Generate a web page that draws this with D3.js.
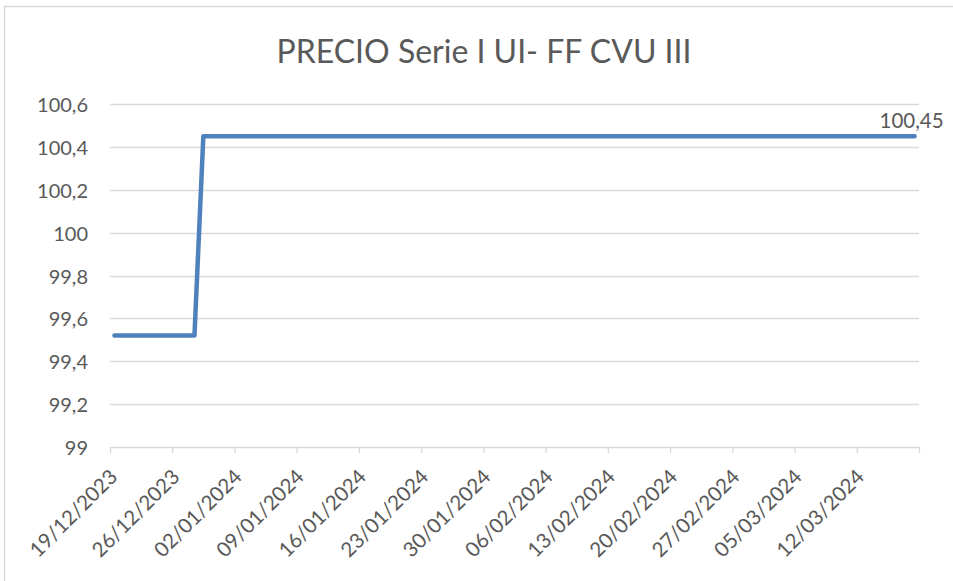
<!DOCTYPE html>
<html>
<head>
<meta charset="utf-8">
<script src="https://cdn.jsdelivr.net/npm/d3@7"></script>
<style>
  html, body { margin: 0; padding: 0; background: #fff; }
  svg { display: block; }
  text { font-family: Lato, "Open Sans", sans-serif; fill: #595959; }
</style>
</head>
<body>
<svg id="chart" width="953" height="581"></svg>
<script>
// ---- data ----
const title = "PRECIO Serie I UI- FF CVU III";
const pointDates = ["2023-12-19", "2023-12-28", "2023-12-29", "2024-03-18"];
const pointValues = [99.52, 99.52, 100.45, 100.45];
const lastLabel = "100,45";
const axisStart = "2023-12-19";
const axisEnd = "2024-03-19";
const tickDates = ["2023-12-19","2023-12-26","2024-01-02","2024-01-09","2024-01-16","2024-01-23","2024-01-30","2024-02-06","2024-02-13","2024-02-20","2024-02-27","2024-03-05","2024-03-12","2024-03-19"];
const tickLabels = ["19/12/2023","26/12/2023","02/01/2024","09/01/2024","16/01/2024","23/01/2024","30/01/2024","06/02/2024","13/02/2024","20/02/2024","27/02/2024","05/03/2024","12/03/2024",""];
const yTicks = [99, 99.2, 99.4, 99.6, 99.8, 100, 100.2, 100.4, 100.6];

const parse = d3.utcParse("%Y-%m-%d");
const svg = d3.select("#chart");
const FONT = "Lato, 'Open Sans', sans-serif";

// chart border
svg.append("rect").attr("x", 4.5).attr("y", 6.5).attr("width", 960).attr("height", 600)
  .attr("fill", "none").attr("stroke", "#d9d9d9").attr("stroke-width", 1.5);

const x = d3.scaleUtc().domain([parse(axisStart), parse(axisEnd)]).range([110, 919]);
const y = d3.scaleLinear().domain([99, 100.6]).range([447, 104]);
const fmt = v => d3.format(".1f")(v).replace(/\.0$/, "").replace(".", ",");

// title
svg.append("text").attr("x", 484).attr("y", 63).attr("text-anchor", "middle")
  .style("font-size", "32px").attr("textLength", 415).attr("lengthAdjust", "spacingAndGlyphs")
  .text(title);

// gridlines
svg.append("g").selectAll("line").data(yTicks.filter(v => v !== 99)).join("line")
  .attr("x1", 110).attr("x2", 919)
  .attr("y1", d => Math.round(y(d)) + 0.5).attr("y2", d => Math.round(y(d)) + 0.5)
  .attr("stroke", "#d9d9d9").attr("stroke-width", 1.3);

// y axis labels
const yAxis = d3.axisLeft(y).tickValues(yTicks).tickFormat(fmt).tickSize(0).tickPadding(22);
const gy = svg.append("g").attr("transform", "translate(110,0)").call(yAxis);
gy.select(".domain").remove();
gy.selectAll("text").style("font-size", "20px").style("font-family", FONT).attr("fill", "#595959")
  .attr("dy", "0.38em");

// x axis
const xAxis = d3.axisBottom(x).tickValues(tickDates.map(parse))
  .tickFormat((d, i) => tickLabels[i]).tickSizeInner(6).tickSizeOuter(0).tickPadding(4);
const gx = svg.append("g").attr("transform", "translate(0,447)").call(xAxis);
gx.select(".domain").attr("stroke", "#d9d9d9").attr("stroke-width", 1.3);
gx.selectAll(".tick line").attr("stroke", "#d9d9d9").attr("stroke-width", 1.3);
gx.selectAll(".tick text")
  .style("font-size", "20.5px").style("font-family", FONT).attr("fill", "#595959")
  .attr("text-anchor", "end").attr("dy", "0.35em")
  .attr("transform", "translate(3,26) rotate(-45)").attr("y", 0).attr("x", 0);

// line (points centred in each day)
const halfDay = 12 * 3600 * 1000;
const pts = pointDates.map((d, i) => [new Date(parse(d).getTime() + halfDay), pointValues[i]]);
const line = d3.line().x(d => x(d[0])).y(d => y(d[1]));
svg.append("path").datum(pts).attr("d", line)
  .attr("fill", "none").attr("stroke", "#4f81bd").attr("stroke-width", 4.5)
  .attr("stroke-linejoin", "round").attr("stroke-linecap", "round");

// data label at last point
const last = pts[pts.length - 1];
svg.append("text").attr("x", x(last[0]) - 3).attr("y", y(last[1]) - 8)
  .attr("text-anchor", "middle").style("font-size", "20.5px").text(lastLabel);
</script>
</body>
</html>
